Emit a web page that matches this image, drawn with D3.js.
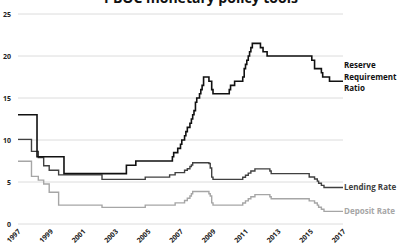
<!DOCTYPE html>
<html>
<head>
<meta charset="utf-8">
<script src="https://cdn.jsdelivr.net/npm/d3@7"></script>
<style>
  body { margin: 0; background: #fff; }
  text { font-family: "Open Sans", "DejaVu Sans", sans-serif; }
</style>
</head>
<body>
<script>
// change dates (decimal years) and values, in percent
const rrrDates = [1997.0, 1998.17, 1999.83, 2003.67, 2004.25, 2006.5, 2006.58, 2006.83, 2007.0, 2007.08,
  2007.25, 2007.33, 2007.42, 2007.58, 2007.67, 2007.75, 2007.83, 2007.92, 2008.0, 2008.17,
  2008.25, 2008.33, 2008.42, 2008.75, 2008.92, 2009.0, 2010.0, 2010.08, 2010.33, 2010.83,
  2010.92, 2011.0, 2011.08, 2011.17, 2011.25, 2011.33, 2011.42, 2011.92, 2012.08, 2012.33,
  2015.08, 2015.25, 2015.67, 2015.75, 2016.17];
const rrrValues = [13, 8, 6, 7, 7.5, 8, 8.5, 9, 9.5, 10,
  10.5, 11, 11.5, 12, 12.5, 13, 13.5, 14.5, 15, 15.5,
  16, 16.5, 17.5, 17, 16, 15.5, 16, 16.5, 17, 17.5,
  18.5, 19, 19.5, 20, 20.5, 21, 21.5, 21, 20.5, 20,
  19.5, 18.5, 18, 17.5, 17];

const lendDates = [1997.0, 1997.83, 1998.25, 1998.58, 1998.92, 1999.5, 2002.17, 2004.83, 2006.33, 2006.67,
  2007.25, 2007.42, 2007.58, 2007.67, 2007.75, 2008.75, 2008.83, 2008.92, 2009.0, 2010.83,
  2011.0, 2011.17, 2011.33, 2011.58, 2012.5, 2012.58, 2014.92, 2015.25, 2015.42, 2015.5,
  2015.67, 2015.83];
const lendValues = [10.08, 8.64, 7.92, 6.93, 6.39, 5.85, 5.31, 5.58, 5.85, 6.12,
  6.39, 6.57, 6.84, 7.02, 7.29, 7.2, 6.66, 5.58, 5.31, 5.56,
  5.81, 6.06, 6.31, 6.56, 6.31, 6.0, 5.6, 5.35, 5.1, 4.85,
  4.6, 4.35];

const depDates = [1997.0, 1997.83, 1998.25, 1998.58, 1998.92, 1999.5, 2002.17, 2004.83, 2006.67, 2007.25,
  2007.42, 2007.58, 2007.67, 2007.75, 2008.75, 2008.83, 2008.92, 2009.0, 2010.83, 2011.0,
  2011.17, 2011.33, 2011.58, 2012.5, 2012.58, 2014.92, 2015.25, 2015.42, 2015.5, 2015.67,
  2015.83];
const depValues = [7.47, 5.67, 5.22, 4.77, 3.78, 2.25, 1.98, 2.25, 2.52, 2.79,
  3.06, 3.33, 3.6, 3.87, 3.6, 3.33, 2.52, 2.25, 2.5, 2.75,
  3.0, 3.25, 3.5, 3.25, 3.0, 2.75, 2.5, 2.25, 2.0, 1.75,
  1.5];

const yTicks = [0, 5, 10, 15, 20, 25];
const xTicks = [1997, 1999, 2001, 2003, 2005, 2007, 2009, 2011, 2013, 2015, 2017];
const endYear = 2017;

const width = 400, height = 250;
const margin = {top: 14, right: 57, bottom: 26, left: 18};

const svg = d3.select("body").append("svg")
  .attr("width", width)
  .attr("height", height);

const x = d3.scaleLinear()
  .domain([1997, 2017])
  .range([margin.left, width - margin.right]);

const y = d3.scaleLinear()
  .domain([0, 25])
  .range([height - margin.bottom, margin.top]);

// title, cropped at the top edge like the source
svg.append("text")
  .attr("x", 201)
  .attr("y", 3)
  .attr("text-anchor", "middle")
  .attr("font-size", 14)
  .attr("font-weight", "bold")
  .attr("fill", "#111")
  .text("PBOC monetary policy tools");

// gridlines
svg.append("g")
  .selectAll("line")
  .data(yTicks)
  .enter()
  .append("line")
    .attr("x1", x(1997))
    .attr("x2", x(2017))
    .attr("y1", d => y(d))
    .attr("y2", d => y(d))
    .attr("stroke", "#dcdcdc")
    .attr("stroke-width", 1);

// y labels
svg.append("g")
  .selectAll("text")
  .data(yTicks)
  .enter()
  .append("text")
    .attr("x", 11)
    .attr("y", d => y(d) + 2.5)
    .attr("text-anchor", "end")
    .attr("font-size", 7)
    .attr("font-weight", "bold")
    .attr("fill", "#222")
    .text(d => d);

// x labels, rotated
svg.append("g")
  .selectAll("text")
  .data(xTicks)
  .enter()
  .append("text")
    .attr("transform", d => "translate(" + (x(d) + 3) + "," + 232 + ") rotate(-45)")
    .attr("text-anchor", "end")
    .attr("font-size", 7)
    .attr("font-weight", "bold")
    .attr("fill", "#222")
    .text(d => d);

const line = d3.line()
  .x(d => x(d[0]))
  .y(d => y(d[1]))
  .curve(d3.curveStepAfter);

const series = [
  {dates: depDates, values: depValues, color: "#a6a6a6", width: 1.4},
  {dates: lendDates, values: lendValues, color: "#404040", width: 1.4},
  {dates: rrrDates, values: rrrValues, color: "#111", width: 1.6}
];

series.forEach(s => {
  const pts = s.dates.map((d, i) => [d, s.values[i]]);
  pts.push([endYear, s.values[s.values.length - 1]]);
  svg.append("path")
    .attr("d", line(pts))
    .attr("fill", "none")
    .attr("stroke", s.color)
    .attr("stroke-width", s.width);
});

// end labels
const labX = x(2017) + 1;
const rrrLab = svg.append("text")
  .attr("font-size", 8)
  .attr("font-weight", "bold")
  .attr("fill", "#111");
["Reserve", "Requirement", "Ratio"].forEach((t, i) => {
  rrrLab.append("tspan")
    .attr("x", labX)
    .attr("y", 68 + i * 11.5)
    .text(t);
});

svg.append("text")
  .attr("x", labX)
  .attr("y", y(4.35) + 2.5)
  .attr("font-size", 8)
  .attr("font-weight", "bold")
  .attr("fill", "#404040")
  .text("Lending Rate");

svg.append("text")
  .attr("x", labX)
  .attr("y", y(1.5) + 2.5)
  .attr("font-size", 8)
  .attr("font-weight", "bold")
  .attr("fill", "#a6a6a6")
  .text("Deposit Rate");
</script>
</body>
</html>
